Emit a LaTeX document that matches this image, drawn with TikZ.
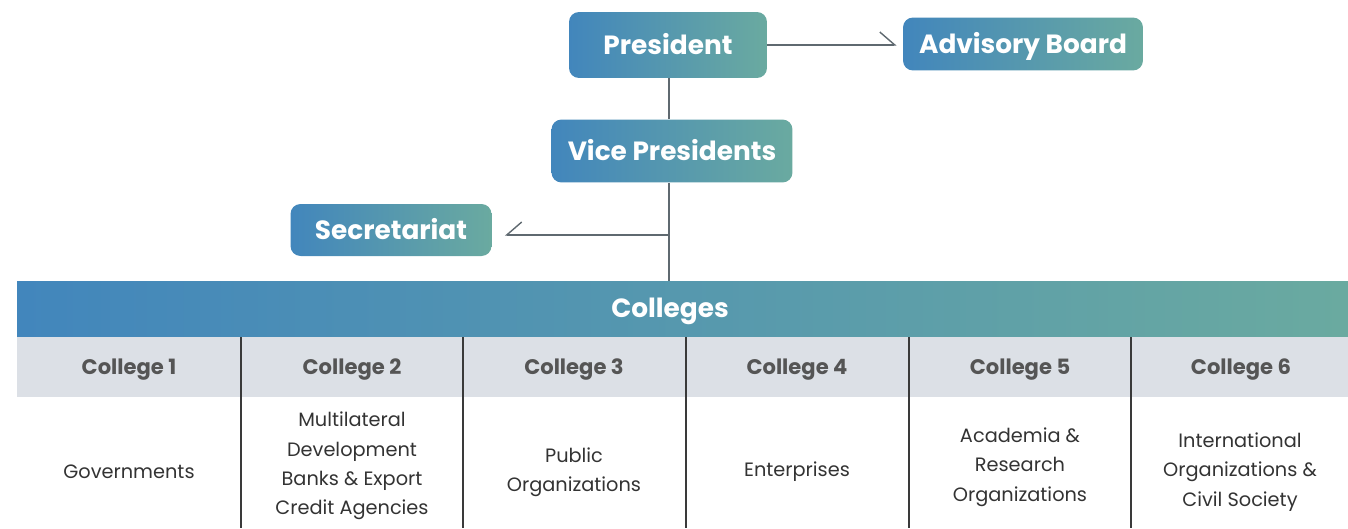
\documentclass[tikz,border=0pt]{standalone}
\usepackage{fontspec}
\setmainfont{Poppins}
\usepackage{tikz}
\usetikzlibrary{arrows.meta,positioning}
\definecolor{cgblue}{RGB}{66,134,188}
\definecolor{cgteal}{RGB}{106,170,160}
\definecolor{cggray}{RGB}{220,224,230}
\definecolor{cgline}{RGB}{95,105,112}
\definecolor{cgrule}{RGB}{58,58,58}
\definecolor{cghead}{RGB}{85,85,85}
\definecolor{cgtext}{RGB}{51,51,51}
\tikzstyle{office} = [rectangle, rounded corners=0.2cm, left color=cgblue, right color=cgteal, text=white, font=\fontsize{15}{18}\selectfont\bfseries, inner sep=0pt, text height=10.5pt, text depth=0pt]
\tikzstyle{link} = [draw=cgline, line width=0.8pt]
\tikzstyle{colhead} = [text=cghead, font=\fontsize{12}{14}\selectfont\bfseries, text height=8.4pt, text depth=0pt]
\tikzstyle{colbody} = [text=cgtext, align=center, font=\fontsize{11}{16.7}\selectfont]

\begin{document}
\begin{tikzpicture}[x=0.02cm, y=-0.02cm]
\useasboundingbox (0,0) rectangle (1348,528);

% boxes on top
\node[office, minimum width=3.96cm, minimum height=1.32cm] (pres) at (668,45) {President};
\node[office, minimum width=4.8cm, minimum height=1.06cm] (adv) at (1023,44) {Advisory Board};
\node[office, minimum width=4.82cm, minimum height=1.26cm] (vp) at (672,151) {Vice Presidents};
\node[office, minimum width=4.02cm, minimum height=1.04cm] (sec) at (391,230) {Secretariat};

% colleges bar
\shade[left color=cgblue, right color=cgteal] (17,281) rectangle (1348,337);
\node[text=white, font=\fontsize{15}{18}\selectfont\bfseries, text height=10.5pt, text depth=0pt] (col) at (670,308) {Colleges};
\fill[cggray] (17,337) rectangle (1348,397);
\coordinate (bartop) at (669,281);
\coordinate (j) at (669,235);

% lines
\draw[link] (pres.south -| bartop) -- (vp.north -| bartop);
\draw[link] (vp.south -| bartop) -- (bartop);
\draw[link, -{Straight Barb[left,length=0.3cm,width=0.52cm]}, shorten >=0.12cm] (pres.east) -- (adv.west |- pres.east);
\draw[link, -{Straight Barb[right,length=0.3cm,width=0.52cm]}, shorten >=0.26cm] (j) -- (sec.east |- j);

% table
\foreach \x in {241,463,686,909,1131}
  \draw[cgrule, line width=0.9pt] (\x,337) -- (\x,528);

\foreach \i/\cx in {1/129,2/352,3/574,4/797,5/1020,6/1241}
  \node[colhead] (h\i) at (\cx,367) {College \i};

\node[colbody] (b1) at (129,472) {Governments};
\node[colbody] (b2) at (352,466) {Multilateral\\Development\\Banks \& Export\\Credit Agencies};
\node[colbody] (b3) at (574,472) {Public\\Organizations};
\node[colbody] (b4) at (797,472) {Enterprises};
\node[colbody] (b5) at (1020,467) {Academia \&\\Research\\Organizations};
\node[colbody] (b6) at (1240,472) {International\\Organizations \&\\Civil Society};
\end{tikzpicture}
\end{document}
